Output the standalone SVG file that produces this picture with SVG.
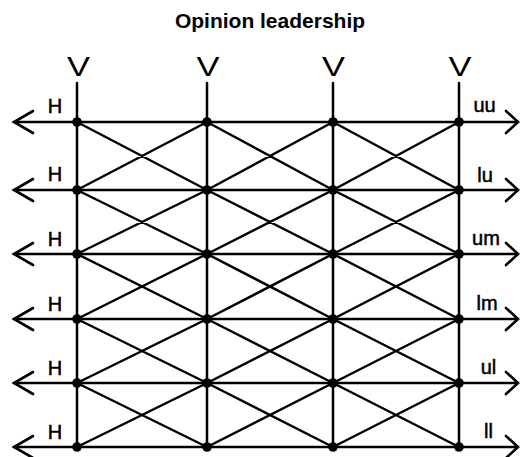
<svg xmlns="http://www.w3.org/2000/svg" width="521" height="457" viewBox="0 0 521 457">
<style>
  .ln { stroke: #000; stroke-width: 2.5; fill: none; stroke-linecap: round; }
  .ah { stroke: #000; stroke-width: 2.6; fill: none; stroke-linecap: round; stroke-linejoin: miter; }
  .dot { fill: #000; }
  .t { font-family: "Liberation Sans", Arial, sans-serif; fill: #000; }
  .title { font-size: 21px; font-weight: bold; text-anchor: middle; }
  .v { font-size: 28px; text-anchor: middle; }
  .h { font-size: 20px; text-anchor: middle; stroke: #000; stroke-width: 0.5; }
  .r { font-size: 20px; text-anchor: middle; stroke: #000; stroke-width: 0.5; }
</style>
<rect width="521" height="457" fill="#fff"/>
<text class="t title" x="270" y="28">Opinion leadership</text>

<g id="connectors">
  <line class="ln" x1="77" y1="83" x2="77" y2="447"/>
  <line class="ln" x1="207" y1="83" x2="207" y2="447"/>
  <line class="ln" x1="333" y1="83" x2="333" y2="447"/>
  <line class="ln" x1="459" y1="83" x2="459" y2="447"/>
  <line class="ln" x1="14" y1="122" x2="518" y2="122"/>
  <line class="ln" x1="14" y1="190" x2="518" y2="190"/>
  <line class="ln" x1="14" y1="254" x2="518" y2="254"/>
  <line class="ln" x1="14" y1="319" x2="518" y2="319"/>
  <line class="ln" x1="14" y1="383" x2="518" y2="383"/>
  <line class="ln" x1="14" y1="447" x2="518" y2="447"/>
  <path class="ah" d="M33,111 L14,122 L33,133 M33,179 L14,190 L33,201 M33,243 L14,254 L33,265 M33,308 L14,319 L33,330 M33,372 L14,383 L33,394 M33,436 L14,447 L33,458"/>
  <path class="ah" d="M506,111 L518,122 L506,133 M506,179 L518,190 L506,201 M506,243 L518,254 L506,265 M506,308 L518,319 L506,330 M506,372 L518,383 L506,394 M506,436 L518,447 L506,458"/>
  <path class="ln" d="
    M77,122 L207,190 M77,190 L207,122 M207,122 L333,190 M207,190 L333,122 M333,122 L459,190 M333,190 L459,122
    M77,190 L207,254 M77,254 L207,190 M207,190 L333,254 M207,254 L333,190 M333,190 L459,254 M333,254 L459,190
    M77,254 L207,319 M77,319 L207,254 M207,254 L333,319 M207,319 L333,254 M333,254 L459,319 M333,319 L459,254
    M77,319 L207,383 M77,383 L207,319 M207,319 L333,383 M207,383 L333,319 M333,319 L459,383 M333,383 L459,319
    M77,383 L207,447 M77,447 L207,383 M207,383 L333,447 M207,447 L333,383 M333,383 L459,447 M333,447 L459,383"/>
</g>

<g id="nodes">
  <g id="n-r1"><circle class="dot" cx="77" cy="122" r="4.8"/><circle class="dot" cx="207" cy="122" r="4.8"/><circle class="dot" cx="333" cy="122" r="4.8"/><circle class="dot" cx="459" cy="122" r="4.8"/></g>
  <g id="n-r2"><circle class="dot" cx="77" cy="190" r="4.8"/><circle class="dot" cx="207" cy="190" r="4.8"/><circle class="dot" cx="333" cy="190" r="4.8"/><circle class="dot" cx="459" cy="190" r="4.8"/></g>
  <g id="n-r3"><circle class="dot" cx="77" cy="254" r="4.8"/><circle class="dot" cx="207" cy="254" r="4.8"/><circle class="dot" cx="333" cy="254" r="4.8"/><circle class="dot" cx="459" cy="254" r="4.8"/></g>
  <g id="n-r4"><circle class="dot" cx="77" cy="319" r="4.8"/><circle class="dot" cx="207" cy="319" r="4.8"/><circle class="dot" cx="333" cy="319" r="4.8"/><circle class="dot" cx="459" cy="319" r="4.8"/></g>
  <g id="n-r5"><circle class="dot" cx="77" cy="383" r="4.8"/><circle class="dot" cx="207" cy="383" r="4.8"/><circle class="dot" cx="333" cy="383" r="4.8"/><circle class="dot" cx="459" cy="383" r="4.8"/></g>
  <g id="n-r6"><circle class="dot" cx="77" cy="447" r="4.8"/><circle class="dot" cx="207" cy="447" r="4.8"/><circle class="dot" cx="333" cy="447" r="4.8"/><circle class="dot" cx="459" cy="447" r="4.8"/></g>
</g>

<g id="labels-v">
  <text class="t v" x="78.5" y="76" textLength="23" lengthAdjust="spacingAndGlyphs">V</text>
  <text class="t v" x="208" y="76" textLength="23" lengthAdjust="spacingAndGlyphs">V</text>
  <text class="t v" x="333.5" y="76" textLength="23" lengthAdjust="spacingAndGlyphs">V</text>
  <text class="t v" x="460" y="76" textLength="23" lengthAdjust="spacingAndGlyphs">V</text>
</g>
<g id="labels-h">
  <text class="t h" x="55" y="113">H</text>
  <text class="t h" x="55" y="181">H</text>
  <text class="t h" x="55" y="246">H</text>
  <text class="t h" x="55" y="311">H</text>
  <text class="t h" x="55" y="375">H</text>
  <text class="t h" x="55" y="439">H</text>
</g>
<g id="labels-r">
  <text class="t r" x="484.5" y="112">uu</text>
  <text class="t r" x="485" y="182">lu</text>
  <text class="t r" x="486" y="245">um</text>
  <text class="t r" x="487" y="310">lm</text>
  <text class="t r" x="488.5" y="374">ul</text>
  <text class="t r" x="488.5" y="438">ll</text>
</g>
</svg>
